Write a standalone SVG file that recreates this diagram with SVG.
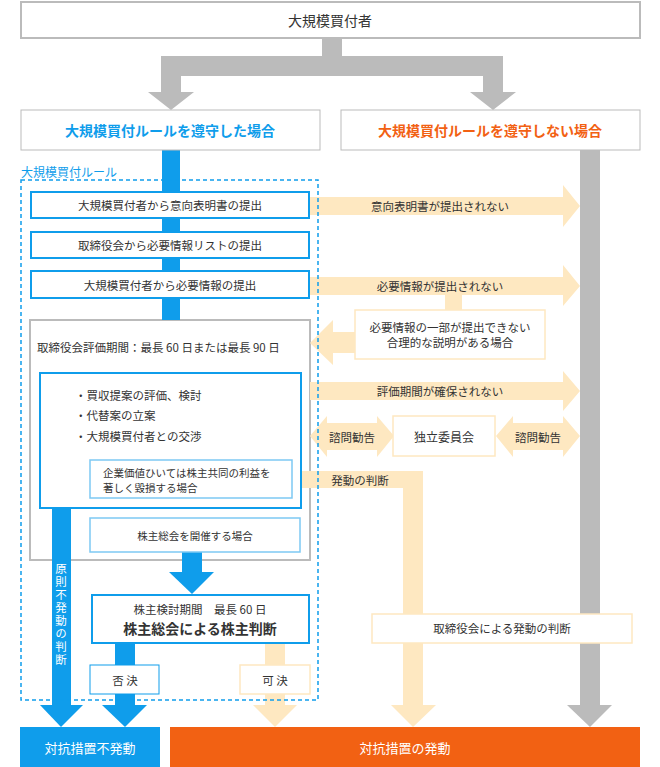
<svg xmlns="http://www.w3.org/2000/svg" width="660" height="767" viewBox="0 0 660 767">
<style>
text{font-family:"Noto Sans CJK JP","Noto Sans",sans-serif;fill:#333;font-size:11.5px;text-anchor:middle;dominant-baseline:central}
.g{fill:#bbb}.b{fill:#0f9deb}.y{fill:#fee8c1}
.bx{fill:#fff;stroke:#0f9deb;stroke-width:2}
.lb{fill:#fff;stroke:#7dc9f3;stroke-width:1.5}
.yb{fill:#fff;stroke:#fee8c1;stroke-width:1.5}
.gb{fill:#fff;stroke:#bbb;stroke-width:2}
</style>
<g id="eval"><rect class="gb" x="30" y="320" width="280" height="240"/><text x="37" y="347" style="text-anchor:start">取締役会評価期間：最長 60 日または最長 90 日</text></g>
<g id="connectors">
<polygon class="g" points="322,38 342,38 342,56 503,56 503,92 516,92 493,110 470,92 483,92 483,76 181,76 181,92 194,92 171,110 148,92 161,92 161,56 322,56"/>
<rect class="g" x="580" y="150" width="20" height="556"/>
<polygon class="g" points="567,705 612,705 590,727"/>
<rect class="b" x="162" y="150" width="18" height="170"/>
<polygon class="y" points="310,197 563,197 563,185 580,206 563,227 563,215 310,215"/>
<polygon class="y" points="310,277 563,277 563,265 580,286 563,306 563,295 462,295 462,312 445,312 445,295 310,295"/>
<polygon class="y" points="310,343 333,320 333,332 357,332 357,353 333,353 333,365"/>
<polygon class="y" points="310,382 563,382 563,371 580,391 563,411 563,400 310,400"/>
<polygon class="y" points="310,436 327,416 327,423 377,423 377,416 394,436 377,457 377,450 327,450 327,457"/>
<polygon class="y" points="496,436 513,416 513,423 563,423 563,416 580,436 563,457 563,450 513,450 513,457"/>
<polygon class="y" points="292,471 423,471 423,705 436,705 413,727 391,705 403,705 403,488 292,488"/>
<rect class="b" x="52" y="508" width="19" height="198"/>
<polygon class="b" points="40,705 83,705 61,727"/>
<rect class="b" x="182" y="552" width="20" height="21"/>
<polygon class="b" points="169,572 214,572 192,594"/>
<rect class="b" x="115" y="643" width="20" height="63"/>
<polygon class="b" points="102,705 147,705 125,727"/>
<rect class="y" x="265" y="643" width="20" height="63"/>
<polygon class="y" points="253,705 297,705 275,727"/>
</g>
<g id="rule-frame">
<rect x="21" y="180" width="297" height="520" fill="none" stroke="#0f9deb" stroke-width="1.5" stroke-dasharray="4,3"/>
<text x="21" y="171" style="text-anchor:start;fill:#0f9deb;font-size:12px">大規模買付ルール</text>
</g>
<g id="buyer"><rect class="gb" x="21" y="2" width="619" height="36"/><text x="330" y="20" style="font-size:14px">大規模買付者</text></g>
<g id="comply"><rect x="21" y="110" width="299" height="40" fill="#fff" stroke="#bbb"/><text x="170" y="130" style="font-size:14px;fill:#0f9deb;font-weight:bold">大規模買付ルールを遵守した場合</text></g>
<g id="noncomply"><rect x="341" y="110" width="299" height="40" fill="#fff" stroke="#bbb"/><text x="490" y="130" style="font-size:14px;fill:#f26113;font-weight:bold">大規模買付ルールを遵守しない場合</text></g>
<g id="step1"><rect class="bx" x="31" y="192" width="278" height="26"/><text x="170" y="205">大規模買付者から意向表明書の提出</text></g>
<g id="step2"><rect class="bx" x="31" y="232" width="278" height="26"/><text x="170" y="245">取締役会から必要情報リストの提出</text></g>
<g id="step3"><rect class="bx" x="31" y="271" width="278" height="27"/><text x="170" y="285">大規模買付者から必要情報の提出</text></g>
<g id="review"><rect class="bx" x="40" y="373" width="261" height="135"/>
<text x="75" y="395" style="text-anchor:start">・買収提案の評価、検討</text>
<text x="75" y="415" style="text-anchor:start">・代替案の立案</text>
<text x="75" y="436" style="text-anchor:start">・大規模買付者との交渉</text></g>
<g id="harm"><rect class="lb" x="90" y="460" width="202" height="38"/>
<text x="103" y="472" style="text-anchor:start;font-size:10.5px">企業価値ひいては株主共同の利益を</text>
<text x="103" y="487" style="text-anchor:start;font-size:10.5px">著しく毀損する場合</text></g>
<g id="meeting"><rect class="lb" x="90" y="518" width="210" height="34"/><text x="195" y="535" style="font-size:10.5px">株主総会を開催する場合</text></g>
<g id="holder"><rect class="bx" x="92" y="595" width="217" height="48"/>
<text x="200" y="609">株主検討期間　最長 60 日</text>
<text x="200" y="628" style="font-size:14px;font-weight:bold">株主総会による株主判断</text></g>
<g id="reject"><rect x="90" y="665" width="69" height="29" fill="#fff" stroke="#0f9deb"/><text x="125" y="680">否 決</text></g>
<g id="approve"><rect class="yb" x="240" y="665" width="70" height="29"/><text x="275" y="680">可 決</text></g>
<g id="labels">
<text x="440" y="206">意向表明書が提出されない</text>
<text x="440" y="286">必要情報が提出されない</text>
<text x="440" y="391">評価期間が確保されない</text>
<text x="352" y="437">諮問勧告</text>
<text x="538" y="437">諮問勧告</text>
<text x="360" y="480">発動の判断</text>
<text x="61" y="563" writing-mode="vertical-rl" style="fill:#fff;font-size:11.5px;text-anchor:start;letter-spacing:1.5px">原則不発動の判断</text>
</g>
<g id="partial"><rect class="yb" x="355" y="310" width="190" height="49"/><text x="450" y="327">必要情報の一部が提出できない</text><text x="450" y="342">合理的な説明がある場合</text></g>
<g id="committee"><rect class="yb" x="393" y="416" width="102" height="40"/><text x="444" y="436" style="font-size:12px">独立委員会</text></g>
<g id="board"><rect class="yb" x="372" y="614" width="260" height="29"/><text x="502" y="628">取締役会による発動の判断</text></g>
<g id="nofire"><rect class="b" x="20" y="727" width="140" height="40"/><text x="90" y="747" style="fill:#fff;font-size:13px">対抗措置不発動</text></g>
<g id="fire"><rect x="170" y="727" width="470" height="40" fill="#f26113"/><text x="405" y="747" style="fill:#fff;font-size:13px">対抗措置の発動</text></g>
</svg>
